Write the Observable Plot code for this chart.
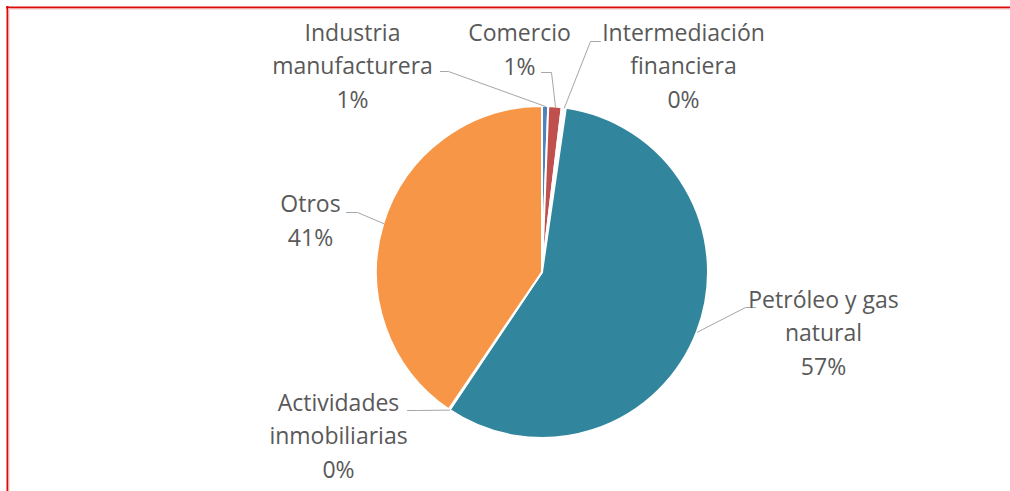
<!DOCTYPE html>
<html>
<head>
<meta charset="utf-8">
<script src="https://cdn.jsdelivr.net/npm/d3@7"></script>
<script src="https://cdn.jsdelivr.net/npm/@observablehq/plot@0.6"></script>
<style>
  html, body { margin: 0; padding: 0; background: #ffffff; overflow: hidden; }
  #chart { display: block; width: 1010px; height: 491px; }
  #chart svg { display: block; }
</style>
</head>
<body>
<div id="chart"></div>
<script>
// ---- data ----
const categories = ["Industria manufacturera", "Comercio", "Intermediación financiera",
                    "Petróleo y gas natural", "Actividades inmobiliarias", "Otros"];
const shares = [0.6, 1.3, 0.4, 57.1, 0.1, 40.5];
const labelLines = [["Industria", "manufacturera"], ["Comercio"], ["Intermediación", "financiera"],
                    ["Petróleo y gas", "natural"], ["Actividades", "inmobiliarias"], ["Otros"]];

// ---- styles / layout ----
const colors = ["#4f81bd", "#c0504d", "#fbfbfb", "#31859c", "#8064a2", "#f79646"];
const W = 1010, H = 491;
const center = {x: 542, y: 272}, radius = 166;
// label block centre and leader start/elbow per category (px)
const labelLayout = [
  {x: 352, y: 63,  start: [440, 71],  elbow: [448, 71]},
  {x: 519, y: 47,  start: [541, 72],  elbow: [551, 72]},
  {x: 683, y: 63,  start: [600, 41],  elbow: [590, 41]},
  {x: 823, y: 330, start: [755, 307], elbow: [745, 307]},
  {x: 338, y: 433, start: [407, 410], elbow: [417, 410]},
  {x: 310, y: 218, start: [346, 212], elbow: [357, 212]}
];
const frameColor = "#dd0a0a", frameInner = "#f3c4c4";
const font = "'Segoe UI', 'Open Sans', 'Noto Sans', sans-serif";

// ---- derived ----
const total = d3.sum(shares);
const table = categories.map((c, i) => ({category: c, value: shares[i]}));
const arcs = d3.pie().sort(null).value(d => d.value)(table);
const labels = table.map((d, i) => ({
  ...labelLayout[i],
  text: [...labelLines[i], Math.round(d.value / total * 100) + "%"].join("\n")
}));
const leaders = [];
arcs.forEach((a, i) => {
  const mid = (a.startAngle + a.endAngle) / 2;
  const L = labelLayout[i];
  const edge = [center.x + radius * Math.sin(mid), center.y - radius * Math.cos(mid)];
  [L.start, L.elbow, edge].forEach(p => leaders.push({k: categories[i], x: p[0], y: p[1]}));
});

const pieMark = (index, scales) => {
  const cx = scales.x(center.x), cy = scales.y(center.y);
  const r = scales.x(center.x + radius) - cx;
  const arc = d3.arc().innerRadius(0).outerRadius(r);
  const g = d3.create("svg:g").attr("transform", `translate(${cx},${cy})`);
  g.selectAll("path").data(arcs).join("path")
    .attr("d", arc)
    .attr("fill", d => scales.color(d.data.category))
    .attr("stroke", "#ffffff")
    .attr("stroke-width", 2)
    .attr("stroke-linejoin", "round");
  return g.node();
};

const chart = Plot.plot({
  width: W, height: H,
  margin: 0,
  style: {background: "#ffffff", fontFamily: font},
  x: {domain: [0, W], range: [0, W], axis: null},
  y: {domain: [0, H], range: [0, H], axis: null},
  color: {domain: categories, range: colors},
  marks: [
    Plot.ruleY([7], {x1: 6, x2: W, stroke: frameColor, strokeWidth: 2}),
    Plot.ruleX([7], {y1: 6, y2: H, stroke: frameColor, strokeWidth: 2}),
    Plot.ruleY([8.5], {x1: 8, x2: W, stroke: frameInner, strokeWidth: 1}),
    Plot.ruleX([8.5], {y1: 8, y2: H, stroke: frameInner, strokeWidth: 1}),
    pieMark,
    Plot.line(leaders, {x: "x", y: "y", z: "k", stroke: "#a6a6a6", strokeWidth: 1}),
    Plot.text(labels, {x: "x", y: "y", text: "text", fill: "#595959", fontSize: 23,
                       lineHeight: 1.46, textAnchor: "middle", lineAnchor: "middle"})
  ]
});
document.getElementById("chart").appendChild(chart);
</script>
</body>
</html>
